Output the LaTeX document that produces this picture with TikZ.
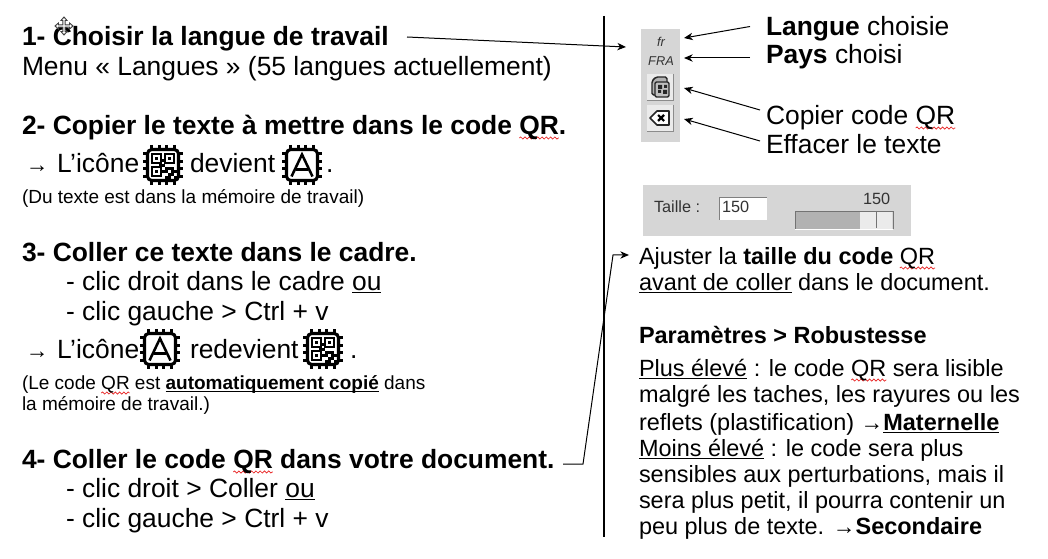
\documentclass[tikz,border=0pt]{standalone}
\usepackage{fontspec}
\setmainfont{Liberation Sans}
\usetikzlibrary{arrows.meta,decorations.pathmorphing}
\definecolor{panelgray}{HTML}{D6D6D6}
\definecolor{wavered}{HTML}{E82020}
\newcommand{\QRw}{\setbox0\hbox{QR}\rlap{\tikz[overlay,x=1pt,y=1pt]\draw[wavered,line width=0.5pt,decorate,decoration={snake,segment length=3.2pt,amplitude=0.8pt}] (0,-2.4pt) -- (\wd0,-2.4pt);}QR}
\newcommand{\ul}[1]{\setbox1\hbox{#1}\rlap{\raisebox{-1.9pt}{\rule{\wd1}{0.75pt}}}\box1\relax}
\newcommand{\arr}{{\fontsize{17pt}{18pt}\selectfont →}}
\tikzset{
  x=0.75pt,y=-0.75pt,
  big/.style={anchor=base west,inner sep=0,outer sep=0,yshift=-0.6pt,font=\fontsize{19.8pt}{22pt}\selectfont},
  mid/.style={anchor=base west,inner sep=0,outer sep=0,yshift=-0.6pt,font=\fontsize{17.6pt}{20pt}\selectfont},
  small/.style={anchor=base west,inner sep=0,outer sep=0,yshift=-0.6pt,font=\fontsize{14.25pt}{16pt}\selectfont},
  ui/.style={anchor=base west,inner sep=0,outer sep=0,text=black!80,font=\fontsize{12.2pt}{13pt}\selectfont},
  conn/.style={line width=0.75pt,-{Stealth[length=6.5pt,width=5.5pt,inset=2pt]}},
  chipbody/.style={draw=black,line width=2.3pt,rounded corners=3.2pt,fill=white},
  pin/.style={line width=2.3pt,black},
  block/.style={fill=black,draw=none},
}
\newcommand{\chipframe}{%
  \draw[chipbody] (-15.5,-15.5) rectangle (15.5,15.5);
  \foreach \p in {-11.5,-3.9,3.9,11.5}{
    \draw[pin] (\p,-20) -- (\p,-15);
    \draw[pin] (\p,15) -- (\p,20);
    \draw[pin] (-20,\p) -- (-15,\p);
    \draw[pin] (15,\p) -- (20,\p);
  }}
\newcommand{\finder}[2]{%
  \draw[line width=1.4pt,black] (#1,#2) rectangle ++(9,9);
  \fill[black] (#1+3,#2+3) rectangle ++(3,3);}
\newcommand{\qrchip}[2]{\begin{scope}[shift={(#1,#2)}]
  \chipframe
  \finder{-11}{-11}\finder{2}{-11}\finder{-11}{2}
  \foreach \a/\b in {2/2,5/2,8/2,2/5,8/5,5/8,11/5,2/11,8/8,11/11,5/11,-1/-1,-4/-1,-1/-6,-1/5}{
    \fill[block] (\a,\b) rectangle ++(2.6,2.6);}
\end{scope}}
\newcommand{\achip}[2]{\begin{scope}[shift={(#1,#2)}]
  \chipframe
  \draw[line width=1.9pt,black,line join=miter] (-10.5,11.5) -- (0,-10.5) -- (10.5,11.5);
  \draw[line width=1.9pt,black] (-6,4.5) -- (6,4.5);
\end{scope}}
\begin{document}
\begin{tikzpicture}
\useasboundingbox (0,0) rectangle (1048,559);
\fill[white] (0,0) rectangle (1048,559);

% left column
\node[big] (t1) at (22,45) {\bfseries 1- Choisir la langue de travail};
\node[big] (t1b) at (22,75) {Menu « Langues » (55 langues actuellement)};
\node[big] (t2) at (22,134) {\bfseries 2- Copier le texte à mettre dans le code \QRw.};
\node[big] (t2a) at (26,172) {\arr};
\node[big] (t2b) at (57,172) {L’icône};
\qrchip{163}{165}
\node[big] (t2c) at (190,172) {devient};
\achip{302}{165}
\node[big] (t2d) at (326,172) {.};
\node[small] (t2e) at (22,203) {(Du texte est dans la mémoire de travail)};
\node[big] (t3) at (22,261) {\bfseries 3- Coller ce texte dans le cadre.};
\node[big] (t3a) at (66,290) {- clic droit dans le cadre \ul{ou}};
\node[big] (t3b) at (66,320) {- clic gauche > Ctrl + v};
\node[big] (t3c) at (26,358) {\arr};
\node[big] (t3d) at (57,358) {L’icône};
\achip{160}{349}
\node[big] (t3e) at (190,358) {redevient};
\qrchip{323}{349}
\node[big] (t3f) at (350,358) {.};
\node[small] (t3g) at (22,389) {(Le code \QRw{} est \ul{\bfseries automatiquement copié} dans};
\node[small] (t3h) at (22,410) {la mémoire de travail.)};
\node[big] (t4) at (22,468) {\bfseries 4- Coller le code \QRw{} dans votre document.};
\node[big] (t4a) at (66,497) {- clic droit > Coller \ul{ou}};
\node[big] (t4b) at (66,527) {- clic gauche > Ctrl + v};

% cursor
\begin{scope}[shift={(64,26)}]
  \draw[black!75,line width=0.7pt,fill=white] (0,-9) -- (3,-5.5) -- (1.2,-5.5) -- (1.2,-1.2) -- (5.5,-1.2) -- (5.5,-3) -- (9,0) -- (5.5,3) -- (5.5,1.2) -- (1.2,1.2) -- (1.2,5.5) -- (3,5.5) -- (0,9) -- (-3,5.5) -- (-1.2,5.5) -- (-1.2,1.2) -- (-5.5,1.2) -- (-5.5,3) -- (-9,0) -- (-5.5,-3) -- (-5.5,-1.2) -- (-1.2,-1.2) -- (-1.2,-5.5) -- (-3,-5.5) -- cycle;
\end{scope}

% separator
\coordinate (sepa) at (604,16);
\coordinate (sepb) at (604,537);
\draw[line width=0.8pt,black] (sepa) -- (sepb);

% toolbar
\fill[panelgray] (641,29) rectangle (680,142);
\node[anchor=base,inner sep=0,text=black!80,font=\fontsize{9.6pt}{11pt}\selectfont\itshape] (fr) at (661,47) {fr};
\node[anchor=base,inner sep=0,text=black!80,font=\fontsize{9.6pt}{11pt}\selectfont\itshape] (fra) at (661,66) {FRA};
\foreach \yy in {74,105}{
  \fill[white!92!black] (647,\yy) rectangle (673.5,\yy+26);
  \draw[black!45,line width=0.5pt] (673.5,\yy) -- (673.5,\yy+26) -- (647,\yy+26);
}
\begin{scope}[shift={(660,87)}]
  \draw[black!85,line width=1.1pt,fill=black!30,rounded corners=1.2pt] (-8,-6) -- (-4,-10) -- (7,-10) -- (7,8) -- (-8,8) -- cycle;
  \draw[black!85,line width=1.1pt,fill=black!25,rounded corners=1pt] (-5,-5) rectangle (9,10);
  \fill[black!85] (-2,-2) rectangle ++(4,4) (4,-2) rectangle ++(3,3) (-2,3) rectangle ++(3,3) (3,3) rectangle ++(4,4);
\end{scope}
\begin{scope}[shift={(660,118)}]
  \draw[black!85,line width=1.2pt,fill=white,line join=round] (-10,0) -- (-3,-7) -- (9,-7) -- (9,7) -- (-3,7) -- cycle;
  \draw[black,line width=1.6pt] (-2,-3) -- (4,3) (-2,3) -- (4,-3);
\end{scope}

% toolbar labels
\node[big] (lang) at (766,35) {\bfseries Langue \mdseries choisie};
\node[big] (pays) at (766,63) {\bfseries Pays \mdseries choisi};
\node[big] (copier) at (766,124) {Copier code \QRw};
\node[big] (effacer) at (766,153) {Effacer le texte};

\coordinate (a1s) at (407,37); \coordinate (a1e) at (626,47);
\coordinate (a2s) at (750,26.5); \coordinate (a2e) at (684,38);
\coordinate (a3s) at (750,58); \coordinate (a3e) at (684,58);
\coordinate (a4s) at (760,110); \coordinate (a4e) at (684,88);
\coordinate (a5s) at (760,141); \coordinate (a5e) at (684,119);
\draw[conn] (a1s) -- (a1e);
\draw[conn] (a2s) -- (a2e);
\draw[conn] (a3s) -- (a3e);
\draw[conn] (a4s) -- (a4e);
\draw[conn] (a5s) -- (a5e);

% slider panel
\fill[panelgray] (643,185) rectangle (911,236);
\node[ui] (tl) at (654,213) {Taille :};
\fill[white] (719,197) rectangle (767,220);
\draw[black!50,line width=0.5pt] (719,220) -- (719,197) -- (767,197);
\node[ui] (v1) at (722,213) {150};
\node[ui] (v2) at (863,205) {150};
\fill[black!30] (795,211) rectangle (860,229);
\fill[black!8] (860,211) rectangle (892,229);
\draw[black!55,line width=0.6pt] (795,229) -- (795,211) -- (893,211) -- (893,229);
\draw[white,line width=0.6pt] (795,229) -- (893,229);
\draw[black!55,line width=0.5pt] (876,211) -- (876,228);

% right text
\node[mid] (r1) at (639,264) {Ajuster la \textbf{taille du code} \QRw};
\node[mid] (r2) at (639,290) {\ul{avant de coller} dans le document.};
\node[mid] (r3) at (639,343) {\bfseries Paramètres > Robustesse};
\node[mid] (r4) at (639,376) {\ul{Plus élevé} : le code \QRw{} sera lisible};
\node[mid] (r5) at (639,402) {malgré les taches, les rayures ou les};
\node[mid] (r6) at (639,430) {reflets (plastification) \arr\ul{\bfseries Maternelle}};
\node[mid] (r7) at (639,456) {\ul{Moins élevé} : le code sera plus};
\node[mid] (r8) at (639,482) {sensibles aux perturbations, mais il};
\node[mid] (r9) at (639,508) {sera plus petit, il pourra contenir un};
\node[mid] (r10) at (639,534) {peu plus de texte. \arr\textbf{Secondaire}};

% step 4 connector
\coordinate (c4s) at (563,464);
\coordinate (c4m) at (583,464);
\coordinate (c4n) at (613,255);
\coordinate (c4e) at (629,255);
\draw[conn] (c4s) -- (c4m) -- (c4n) -- (c4e);
\end{tikzpicture}
\end{document}
